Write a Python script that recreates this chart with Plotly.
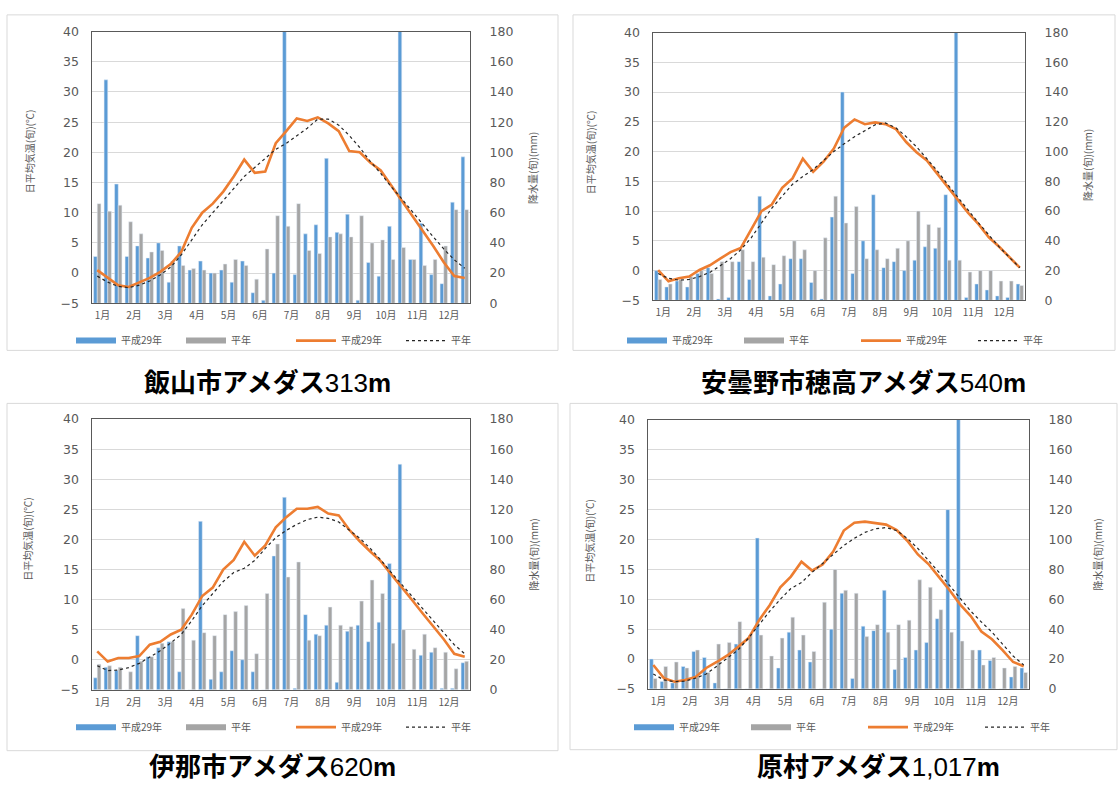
import plotly.graph_objects as go

W, H = 1118, 793

months = ["1月", "2月", "3月", "4月", "5月", "6月", "7月", "8月", "9月", "10月", "11月", "12月"]
decades = list(range(36))  # 旬 index 0..35 (上旬/中旬/下旬 x 12 months)
series_names = ["平成29年", "平年"]

# ---------------- 飯山市アメダス 313m ----------------
iiyama_prec_h29 = [31, 148, 79, 31, 38, 30, 40, 14, 38, 22, 28, 20, 22, 14, 28, 7, 2, 20,
                   190, 19, 46, 52, 96, 47, 59, 2, 27, 18, 51, 190, 29, 53, 19, 13, 67, 97]
iiyama_prec_norm = [66, 61, 65, 54, 46, 34, 35, 28, 25, 23, 22, 20, 26, 29, 25, 16, 36, 58,
                    51, 66, 35, 33, 44, 46, 44, 58, 40, 42, 29, 37, 29, 25, 29, 38, 62, 62]
iiyama_temp_h29 = [0.5, -0.8, -2.0, -2.3, -1.5, -0.8, 0.2, 1.5, 3.5, 7.5, 10.0, 11.5, 13.5, 16.0,
                   18.8, 16.6, 16.8, 21.5, 23.5, 25.6, 25.2, 25.8, 24.8, 23.5, 20.2, 20.0, 18.3,
                   17.0, 14.5, 12.0, 9.5, 7.1, 4.5, 1.8, -0.5, -0.8]
iiyama_temp_norm = [-0.5, -1.5, -2.2, -2.4, -2.0, -1.3, -0.3, 1.0, 3.0, 5.5, 8.0, 10.0, 12.0, 14.0,
                    16.0, 17.5, 19.0, 20.5, 21.5, 22.8, 24.0, 25.5, 25.5, 24.5, 22.8, 20.8, 18.5,
                    16.5, 14.3, 12.3, 10.2, 8.0, 6.0, 4.0, 2.2, 0.8]

# ---------------- 安曇野市穂高アメダス 540m ----------------
hotaka_prec_h29 = [20, 9, 13, 9, 18, 22, 1, 2, 26, 14, 70, 3, 11, 28, 28, 12, 1, 56,
                   140, 18, 40, 71, 22, 26, 20, 27, 36, 35, 71, 190, 2, 11, 7, 3, 2, 11]
hotaka_prec_norm = [14, 11, 14, 16, 20, 18, 26, 26, 34, 26, 29, 24, 30, 40, 34, 20, 42, 70,
                    52, 63, 28, 34, 28, 35, 40, 60, 51, 49, 27, 27, 19, 20, 20, 13, 13, 10]
hotaka_temp_h29 = [0.1, -1.8, -1.3, -1.0, 0.1, 0.9, 2.0, 3.1, 3.8, 7.0, 10.0, 11.1, 13.9, 15.5,
                   18.8, 16.6, 18.3, 20.5, 24.0, 25.4, 24.6, 24.9, 24.6, 23.8, 21.6, 19.9, 18.5,
                   16.3, 14.1, 11.7, 9.7, 7.8, 5.6, 4.0, 2.3, 0.5]
hotaka_temp_norm = [-0.5, -1.3, -1.6, -1.5, -1.0, -0.3, 0.8, 2.0, 3.5, 5.5, 8.0, 10.5, 12.5, 14.5,
                    15.8, 17.0, 18.5, 20.0, 21.3, 22.5, 23.5, 24.5, 24.8, 24.0, 22.5, 20.8, 18.8,
                    16.8, 14.5, 12.3, 10.2, 8.0, 6.0, 4.0, 2.2, 0.5]

# ---------------- 伊那市アメダス 620m ----------------
ina_prec_h29 = [8, 15, 13, 0, 36, 22, 28, 32, 12, 0, 112, 7, 12, 26, 20, 12, 0, 89,
                128, 1, 50, 37, 43, 5, 39, 43, 32, 45, 84, 150, 0, 23, 25, 1, 1, 18]
ina_prec_norm = [17, 16, 15, 12, 19, 22, 31, 32, 54, 33, 38, 36, 50, 52, 56, 24, 64, 97,
                 75, 85, 33, 36, 55, 43, 42, 59, 73, 64, 31, 40, 27, 37, 28, 25, 14, 19]
ina_temp_h29 = [1.4, -0.3, 0.3, 0.3, 0.6, 2.5, 3.0, 4.2, 5.0, 7.5, 10.6, 12.0, 15.0, 16.6,
                19.6, 17.3, 19.0, 22.0, 23.7, 25.1, 25.1, 25.4, 24.3, 24.0, 21.6, 19.7, 18.0,
                16.4, 14.2, 12.1, 9.9, 7.7, 5.6, 3.4, 1.0, 0.5]
ina_temp_norm = [-1.0, -1.8, -1.7, -1.3, -0.6, 0.4, 1.5, 2.8, 4.2, 6.5, 9.0, 11.0, 13.0, 14.5,
                 15.2, 16.5, 18.5, 20.3, 21.5, 22.5, 23.3, 23.7, 23.5, 22.9, 21.5, 20.2, 18.5,
                 16.6, 14.5, 12.5, 10.5, 8.5, 6.5, 4.5, 2.5, 1.0]

# ---------------- 原村アメダス 1,017m ----------------
haramura_prec_h29 = [20, 5, 4, 15, 25, 21, 4, 0, 30, 0, 101, 0, 14, 38, 26, 18, 0, 40,
                     64, 7, 42, 39, 66, 13, 21, 26, 31, 47, 120, 190, 0, 26, 19, 0, 8, 14]
haramura_prec_norm = [7, 15, 18, 14, 26, 11, 30, 31, 45, 36, 36, 22, 34, 48, 36, 25, 58, 80,
                      66, 64, 35, 43, 38, 43, 46, 73, 68, 53, 38, 32, 26, 16, 21, 14, 15, 11]
haramura_temp_h29 = [-1.0, -3.2, -3.8, -3.5, -3.0, -1.5, -0.5, 0.6, 2.0, 3.5, 6.5, 9.0, 12.0,
                     13.8, 16.3, 14.8, 15.8, 18.0, 21.5, 22.8, 23.0, 22.8, 22.5, 21.6, 19.8,
                     17.5, 15.9, 13.7, 11.5, 9.1, 7.2, 4.6, 3.3, 1.5, -0.5, -1.2]
haramura_temp_norm = [-2.5, -3.5, -3.8, -3.7, -3.2, -2.5, -1.2, 0.2, 1.5, 3.5, 5.8, 8.0, 10.0,
                      11.8, 12.8, 14.5, 16.0, 17.5, 19.0, 20.2, 21.2, 21.8, 22.0, 21.5, 20.2,
                      18.5, 16.5, 14.5, 12.3, 10.2, 8.0, 6.2, 4.5, 2.5, 0.5, -1.0]

titles = ["<b>飯山市アメダス</b>313<b>m</b>",
          "<b>安曇野市穂高アメダス</b>540<b>m</b>",
          "<b>伊那市アメダス</b>620<b>m</b>",
          "<b>原村アメダス</b>1,017<b>m</b>"]
temp_axis_title = "日平均気温(旬)(℃)"
prec_axis_title = "降水量(旬)(mm)"

data_sets = [
    (iiyama_prec_h29, iiyama_prec_norm, iiyama_temp_h29, iiyama_temp_norm),
    (hotaka_prec_h29, hotaka_prec_norm, hotaka_temp_h29, hotaka_temp_norm),
    (ina_prec_h29, ina_prec_norm, ina_temp_h29, ina_temp_norm),
    (haramura_prec_h29, haramura_prec_norm, haramura_temp_h29, haramura_temp_norm),
]

# layout geometry (pixels in the 1118x793 page)
geom = [
    dict(plot=(92, 24, 470, 301), box=(7, 7, 558, 349), leg=(291, 339), ew=55,
         lt=(29, 146), rt=(533, 163), title=(267, 382)),
    dict(plot=(653, 25, 1025, 298), box=(573, 7, 1115, 349), leg=(856, 339), ew=62,
         lt=(590, 147), rt=(1088, 160), title=(863, 382)),
    dict(plot=(92, 419, 470, 695), box=(7, 403, 558, 757), leg=(291, 733), ew=55,
         lt=(28, 541), rt=(533, 557), title=(272, 774)),
    dict(plot=(648, 420, 1029, 694), box=(570, 403, 1117, 756), leg=(863, 733), ew=62,
         lt=(590, 543), rt=(1097, 557), title=(878, 774)),
]

BLUE = "#5B9BD5"
GRAY = "#A5A5A5"
ORANGE = "#ED7D31"
DARK = "#262626"
TXT = "#595959"
GRID = "#D9D9D9"
CJK = "Noto Sans CJK JP"


def px(x):
    return x / W


def py(y):
    return 1 - y / H


fig = go.Figure()
layout = dict(
    width=W, height=H, margin=dict(l=0, r=0, t=0, b=0),
    paper_bgcolor="white", plot_bgcolor="white",
    barmode="group", bargap=0.3, bargroupgap=0.0,
    annotations=[], shapes=[],
)

for k in range(4):
    n = k + 1
    prec_h29, prec_norm, temp_h29, temp_norm = data_sets[k]
    g = geom[k]
    xname = "x" if n == 1 else f"x{n}"
    yb = 2 * n - 1
    yt = 2 * n
    ybname = "y" if yb == 1 else f"y{yb}"
    ytname = f"y{yt}"
    legname = "legend" if n == 1 else f"legend{n}"

    # bars on base (precipitation, right) axis
    fig.add_trace(go.Bar(x=decades, y=prec_h29, name=series_names[0], marker_color=BLUE,
                         xaxis=xname, yaxis=ybname, showlegend=False, legend=legname))
    fig.add_trace(go.Bar(x=decades, y=prec_norm, name=series_names[1], marker_color=GRAY,
                         xaxis=xname, yaxis=ybname, showlegend=False, legend=legname))
    # lines on overlaying (temperature, left) axis so that they sit above the bars
    fig.add_trace(go.Scatter(x=decades, y=temp_h29, name=series_names[0], mode="lines",
                             line=dict(color=ORANGE, width=2.6), xaxis=xname, yaxis=ytname,
                             showlegend=False, legend=legname))
    fig.add_trace(go.Scatter(x=decades, y=temp_norm, name=series_names[1], mode="lines",
                             line=dict(color=DARK, width=1.2, dash="dot"), xaxis=xname,
                             yaxis=ytname, showlegend=False, legend=legname))
    # legend entries (Excel-like wide swatches)
    for nm, col, wd, dash in [(series_names[0], BLUE, 6, "solid"), (series_names[1], GRAY, 6, "solid"),
                              (series_names[0], ORANGE, 2.6, "solid"), (series_names[1], DARK, 1.2, "dot")]:
        fig.add_trace(go.Scatter(x=[None], y=[None], mode="lines", name=nm,
                                 line=dict(color=col, width=wd, dash=dash),
                                 xaxis=xname, yaxis=ytname, legend=legname, hoverinfo="skip"))

    x0, y0, x1, y1 = g["plot"]
    xdom = [px(x0), px(x1)]
    ydom = [py(y1), py(y0)]
    xkey = "xaxis" if n == 1 else f"xaxis{n}"
    ybkey = "yaxis" if yb == 1 else f"yaxis{yb}"
    ytkey = f"yaxis{yt}"
    layout[xkey] = dict(domain=xdom, range=[-0.5, 35.5], anchor=ybname,
                        tickvals=[3 * m + 0.5 for m in range(12)], ticktext=months,
                        showgrid=False, zeroline=False, showline=True, linecolor="#595959",
                        linewidth=1.2, mirror=True, ticks="",
                        tickfont=dict(family=CJK, size=10, color=TXT), ticklabelstandoff=3)
    layout[ybkey] = dict(domain=ydom, range=[0, 180], dtick=20, anchor=xname, side="right",
                         showgrid=True, gridcolor=GRID, gridwidth=1, zeroline=False,
                         showline=True, linecolor="#595959", linewidth=1.2, mirror=True,
                         ticks="", tickfont=dict(family="DejaVu Sans", size=12.5, color=TXT),
                         ticklabelstandoff=16)
    layout[ytkey] = dict(range=[-5, 40], dtick=5, anchor=xname, overlaying=ybname, side="left",
                         showgrid=False, zeroline=False, showline=False, ticks="",
                         tickfont=dict(family="DejaVu Sans", size=12.5, color=TXT),
                         ticklabelstandoff=12)

    layout[legname] = dict(orientation="h", x=px(g["leg"][0]), y=py(g["leg"][1]),
                           xanchor="center", yanchor="middle", itemwidth=40,
                           entrywidth=g["ew"], entrywidthmode="pixels",
                           font=dict(family=CJK, size=10, color=TXT),
                           bgcolor="rgba(0,0,0,0)", traceorder="normal")

    bx0, by0, bx1, by1 = g["box"]
    layout["shapes"].append(dict(type="rect", xref="paper", yref="paper",
                                 x0=px(bx0), x1=px(bx1), y0=py(by1), y1=py(by0),
                                 line=dict(color=GRID, width=1), layer="below"))
    layout["annotations"].append(dict(text=temp_axis_title, xref="paper", yref="paper",
                                      x=px(g["lt"][0]), y=py(g["lt"][1]), textangle=-90,
                                      showarrow=False, xanchor="center", yanchor="middle",
                                      font=dict(family=CJK, size=10, color=TXT)))
    layout["annotations"].append(dict(text=prec_axis_title, xref="paper", yref="paper",
                                      x=px(g["rt"][0]), y=py(g["rt"][1]), textangle=-90,
                                      showarrow=False, xanchor="center", yanchor="middle",
                                      font=dict(family=CJK, size=10, color=TXT)))
    layout["annotations"].append(dict(text=titles[k], xref="paper", yref="paper",
                                      x=px(g["title"][0]), y=py(g["title"][1]),
                                      showarrow=False, xanchor="center", yanchor="middle",
                                      font=dict(family="Liberation Sans, " + CJK, size=26,
                                                color="black")))

fig.update_layout(**layout)
fig.write_html("out.html", config={"displayModeBar": False},
               post_script="document.body.style.margin='0px';document.body.style.overflow='hidden';")
